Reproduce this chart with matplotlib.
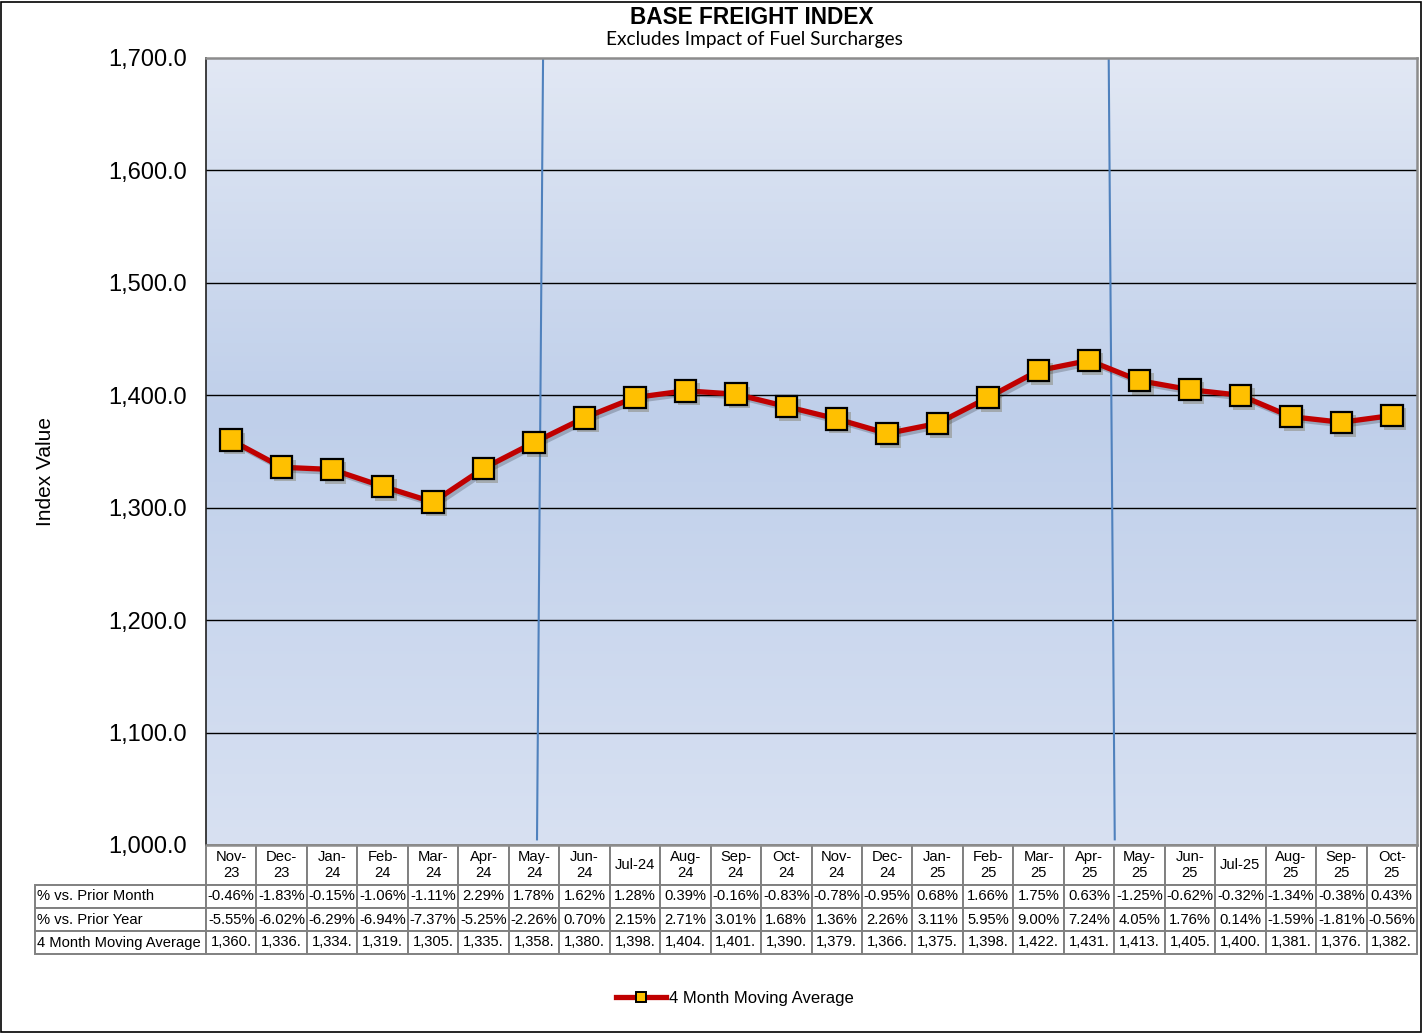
import numpy as np
import matplotlib.pyplot as plt
import matplotlib.patheffects as pe
from matplotlib.lines import Line2D
from matplotlib.table import Table
from matplotlib.ticker import FuncFormatter

plt.rcParams["font.family"] = ["Liberation Sans", "DejaVu Sans"]

# data
months = ["Nov-\n23", "Dec-\n23", "Jan-\n24", "Feb-\n24", "Mar-\n24", "Apr-\n24",
          "May-\n24", "Jun-\n24", "Jul-24", "Aug-\n24", "Sep-\n24", "Oct-\n24",
          "Nov-\n24", "Dec-\n24", "Jan-\n25", "Feb-\n25", "Mar-\n25", "Apr-\n25",
          "May-\n25", "Jun-\n25", "Jul-25", "Aug-\n25", "Sep-\n25", "Oct-\n25"]
pct_month = ["-0.46%", "-1.83%", "-0.15%", "-1.06%", "-1.11%", "2.29%", "1.78%", "1.62%",
             "1.28%", "0.39%", "-0.16%", "-0.83%", "-0.78%", "-0.95%", "0.68%", "1.66%",
             "1.75%", "0.63%", "-1.25%", "-0.62%", "-0.32%", "-1.34%", "-0.38%", "0.43%"]
pct_year = ["-5.55%", "-6.02%", "-6.29%", "-6.94%", "-7.37%", "-5.25%", "-2.26%", "0.70%",
            "2.15%", "2.71%", "3.01%", "1.68%", "1.36%", "2.26%", "3.11%", "5.95%",
            "9.00%", "7.24%", "4.05%", "1.76%", "0.14%", "-1.59%", "-1.81%", "-0.56%"]
moving_avg = [1360, 1336, 1334, 1319, 1305, 1335, 1358, 1380, 1398, 1404, 1401, 1390,
              1379, 1366, 1375, 1398, 1422, 1431, 1413, 1405, 1400, 1381, 1376, 1382]
row_labels = ["% vs. Prior Month", "% vs. Prior Year", "4 Month Moving Average"]

W, H = 1423, 1034
fig = plt.figure(figsize=(W / 100, H / 100), dpi=100)
ax = fig.add_axes([206 / W, 1 - 845 / H, 1211 / W, 787 / H])

x = np.arange(len(moving_avg))
ax.set_xlim(-0.5, len(x) - 0.5)
ax.set_ylim(1000, 1700)

# gradient background
grad = np.array([[0.886, 0.910, 0.957], [0.749, 0.812, 0.918], [0.847, 0.882, 0.949]])
t = np.linspace(0, 1, 256)
stops = np.array([0, 0.45, 1])
img = np.stack([np.interp(t, stops, grad[:, c]) for c in range(3)], axis=1)[:, None, :]
ax.imshow(img, aspect="auto", extent=[-0.5, len(x) - 0.5, 1000, 1700], origin="upper", zorder=0)

for yv in range(1100, 1700, 100):
    ax.axhline(yv, color="black", lw=1, zorder=1)

# slanted vertical divider lines
ax.plot([6.18, 6.06], [1700, 1005], color="#4f81bd", lw=1.5, zorder=2)
ax.plot([17.39, 17.51], [1700, 1005], color="#4f81bd", lw=1.5, zorder=2)

ax.plot(x, moving_avg, color="#c00000", lw=3.8, zorder=3,
        path_effects=[pe.SimpleLineShadow(offset=(2, -2), alpha=0.2), pe.Normal()])
ax.plot(x, moving_avg, ls="none", marker="s", ms=15.5, mfc="#ffc000", mec="black", mew=1.6,
        zorder=4, path_effects=[pe.SimplePatchShadow(offset=(2.5, -2.5), alpha=0.25), pe.Normal()])

ax.set_xticks([])
ax.set_yticks(range(1000, 1701, 100))
ax.yaxis.set_major_formatter(FuncFormatter(lambda v, p: f"{v:,.1f}"))
ax.tick_params(axis="y", labelsize=17, length=0, pad=13.5)
for s in ax.spines.values():
    s.set_color("#8c8c8c")
    s.set_linewidth(1.8)
ax.spines["left"].set_color("#202020")
ax.spines["left"].set_linewidth(1.2)
ax.set_ylabel("Index Value", fontsize=15)
ax.yaxis.set_label_coords(-0.125, 0.475)

# data table built cell by cell below the axes
label_w = 171 / 1211
col_w = 1 / 24
head_h = 40 / 787
row_h = 23 / 787
tbl = Table(ax, bbox=[-label_w, -(head_h + 3 * row_h), 1 + label_w, head_h + 3 * row_h])
for c, m in enumerate(months):
    tbl.add_cell(0, c + 1, width=col_w, height=head_h, text=m, loc="center",
                 edgecolor="#808080", facecolor="white")
cells = [pct_month, pct_year, [f"{v:,}." for v in moving_avg]]
for r, (lab, vals) in enumerate(zip(row_labels, cells), start=1):
    tbl.add_cell(r, 0, width=label_w, height=row_h, text=lab, loc="left",
                 edgecolor="#808080", facecolor="white")
    for c, v in enumerate(vals):
        tbl.add_cell(r, c + 1, width=col_w, height=row_h, text=v, loc="center",
                     edgecolor="#808080", facecolor="white")
tbl.add_cell(0, 0, width=label_w, height=head_h, text="", edgecolor="none", facecolor="none")
tbl.auto_set_font_size(False)
tbl.set_fontsize(10.6)
for (r, c), cell in tbl.get_celld().items():
    cell.set_linewidth(1.4)
    if c == 0:
        cell.PAD = 0.012
ax.add_table(tbl)

fig.text(752 / W, 1 - 17 / H, "BASE FREIGHT INDEX", ha="center", va="center",
         fontsize=16.3, fontweight="bold")
fig.text(754 / W, 1 - 40 / H, "Excludes Impact of Fuel Surcharges", ha="center", va="center",
         fontsize=13.8, family=["Lato", "DejaVu Sans"])

handle = Line2D([], [], color="#c00000", lw=3.8, marker="s", ms=7, mfc="#ffc000",
                mec="black", mew=1.4)
fig.legend([handle], ["4 Month Moving Average"], loc="center",
           bbox_to_anchor=(735 / W, 1 - 998 / H), frameon=False, fontsize=12,
           handlelength=3, handletextpad=0.2)

fig.patches.append(plt.Rectangle((1 / W, 2 / H), 1 - 3 / W, 1 - 4 / H, transform=fig.transFigure,
                                 fill=False, edgecolor="black", lw=1.2))

fig.savefig("out.png", dpi=100)
